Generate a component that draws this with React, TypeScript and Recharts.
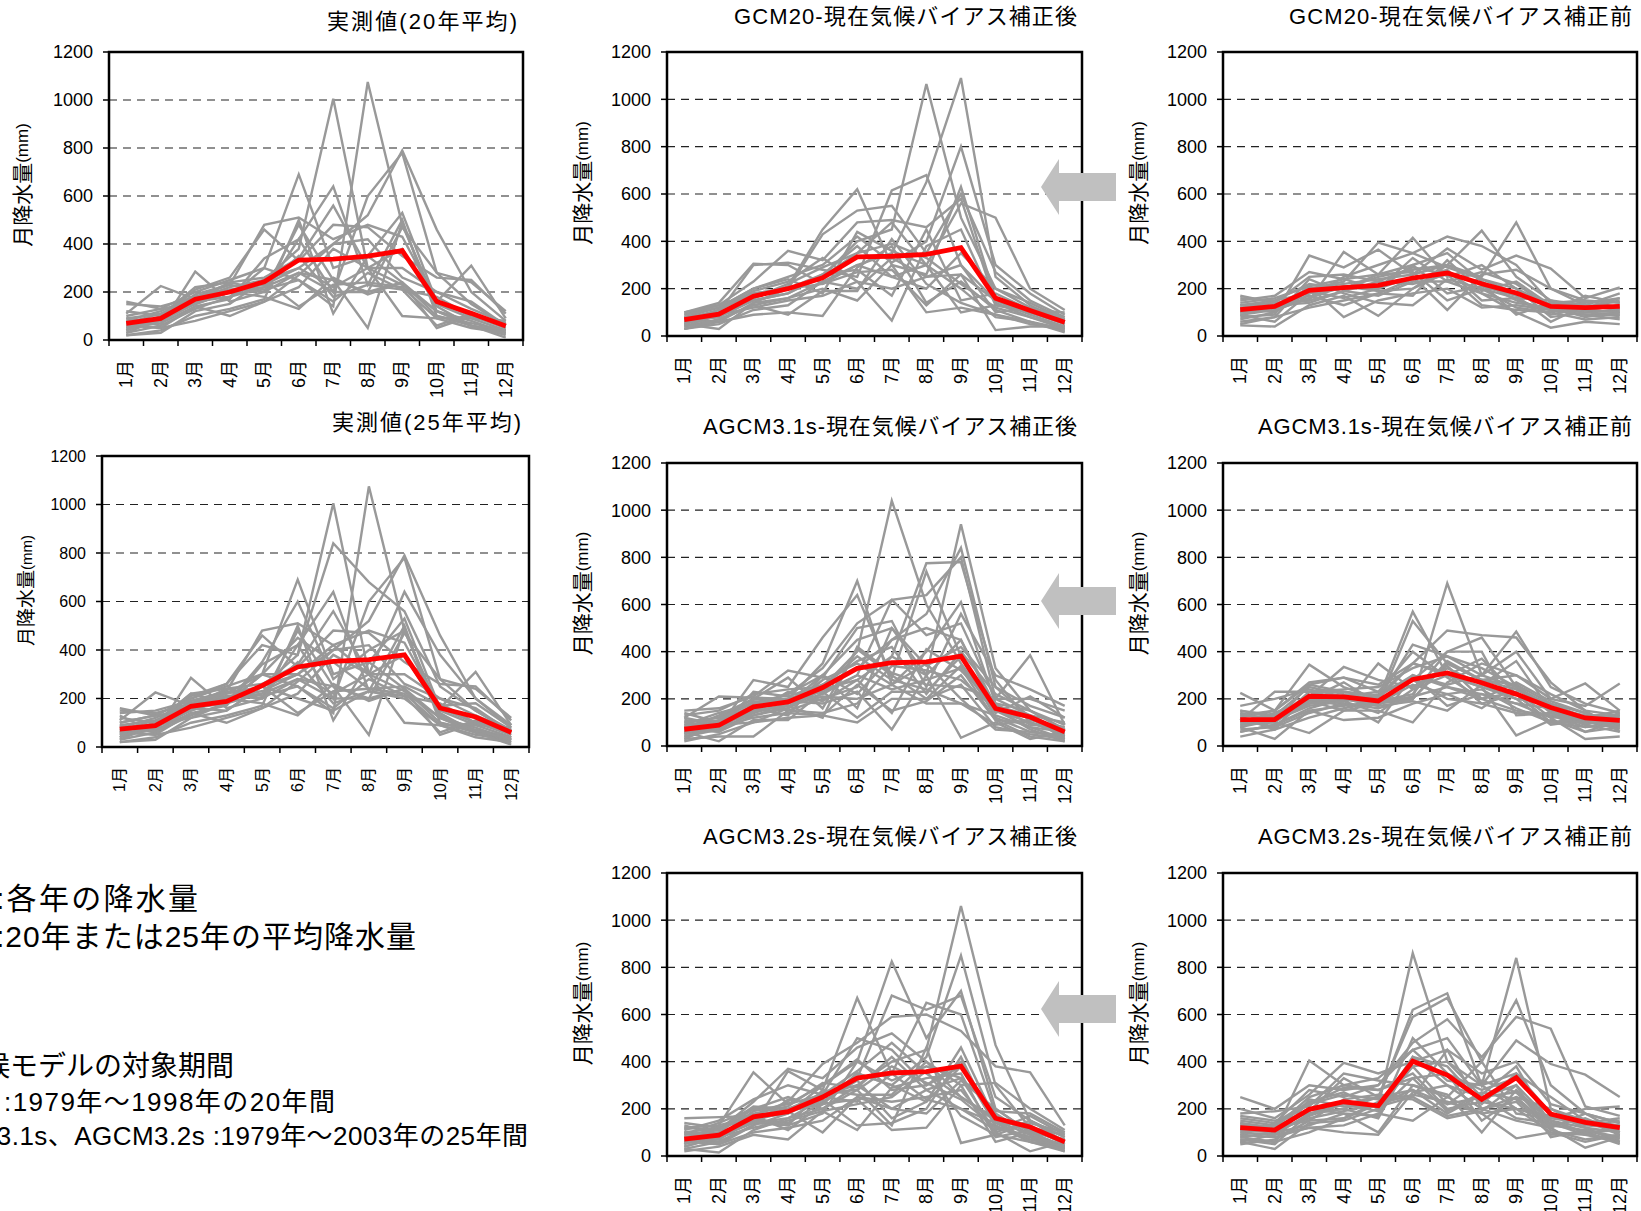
import { LineChart, Line, XAxis, YAxis, CartesianGrid, ReferenceArea } from 'recharts'

const FONT = '"Liberation Sans", Arial, "Noto Sans CJK JP", sans-serif'

const MONTHS = ['1月', '2月', '3月', '4月', '5月', '6月', '7月', '8月', '9月', '10月', '11月', '12月']
const Y_TICKS = [0, 200, 400, 600, 800, 1000, 1200]
const X_BOUNDS = [0, 1, 2, 3, 4, 5, 6, 7, 8, 9, 10, 11, 12]

// 実測値 1979-2003 (first 20 rows = 1979-1998)
const OBS_YEARS = [
  [50, 80, 150, 200, 250, 380, 1005, 300, 230, 120, 60, 30],
  [90, 60, 130, 180, 300, 250, 140, 1075, 480, 150, 90, 40],
  [70, 110, 160, 210, 230, 300, 400, 520, 790, 460, 200, 80],
  [40, 90, 190, 230, 200, 420, 200, 600, 780, 280, 150, 60],
  [100, 130, 200, 250, 300, 690, 300, 350, 240, 120, 80, 30],
  [60, 70, 140, 170, 340, 420, 640, 230, 500, 100, 70, 40],
  [120, 100, 220, 240, 260, 340, 560, 300, 300, 200, 130, 70],
  [150, 140, 180, 230, 480, 510, 420, 480, 430, 160, 100, 60],
  [30, 90, 210, 260, 460, 330, 480, 470, 350, 260, 250, 110],
  [80, 120, 180, 210, 200, 480, 250, 50, 490, 120, 60, 20],
  [20, 40, 100, 130, 170, 500, 110, 350, 530, 160, 310, 90],
  [30, 60, 285, 160, 200, 280, 200, 200, 240, 100, 60, 40],
  [110, 225, 170, 220, 250, 140, 230, 240, 220, 90, 50, 30],
  [60, 50, 80, 120, 160, 220, 380, 300, 100, 90, 90, 80],
  [50, 80, 160, 180, 220, 280, 250, 200, 470, 280, 240, 120],
  [160, 130, 150, 200, 220, 350, 180, 230, 210, 60, 110, 50],
  [70, 50, 140, 100, 160, 270, 400, 420, 260, 200, 160, 60],
  [40, 100, 180, 200, 180, 130, 260, 190, 240, 50, 100, 70],
  [20, 30, 120, 150, 250, 300, 220, 300, 380, 140, 60, 10],
  [90, 110, 170, 240, 210, 250, 160, 280, 210, 180, 100, 50],
  [100, 130, 200, 260, 420, 380, 840, 680, 560, 250, 150, 70],
  [140, 150, 190, 220, 300, 300, 420, 300, 640, 380, 200, 90],
  [80, 90, 120, 180, 350, 600, 280, 400, 480, 130, 70, 30],
  [130, 60, 160, 150, 250, 200, 150, 230, 200, 90, 40, 20],
  [60, 100, 220, 180, 300, 450, 350, 240, 250, 170, 180, 80],
]
const OBS20_MEAN = [69, 90, 170, 200, 243, 333, 337, 349, 372, 160, 111, 58]
const OBS25_MEAN = [74, 88, 168, 188, 253, 330, 353, 360, 380, 161, 124, 60]

const GCM20_AFTER = [
  [60, 90, 150, 180, 250, 400, 450, 1065, 500, 200, 120, 50],
  [40, 70, 130, 160, 230, 300, 350, 650, 1090, 250, 130, 60],
  [80, 120, 200, 250, 300, 420, 310, 400, 800, 300, 180, 90],
  [50, 100, 300, 310, 280, 250, 615, 680, 300, 150, 90, 40],
  [70, 80, 160, 210, 450, 620, 300, 260, 630, 160, 100, 50],
  [30, 60, 140, 200, 430, 530, 550, 350, 600, 270, 150, 80],
  [90, 130, 230, 360, 320, 480, 490, 460, 580, 140, 80, 30],
  [60, 110, 180, 200, 250, 350, 480, 300, 560, 500, 200, 110],
  [40, 90, 120, 150, 170, 230, 65, 380, 450, 130, 100, 60],
  [100, 140, 305, 300, 220, 300, 250, 200, 350, 200, 140, 70],
  [70, 60, 90, 100, 85, 290, 380, 140, 230, 110, 60, 20],
  [50, 30, 140, 160, 200, 150, 300, 100, 120, 90, 50, 30],
  [80, 100, 170, 200, 260, 380, 250, 300, 100, 130, 110, 70],
  [30, 50, 110, 130, 230, 200, 330, 250, 260, 25, 40, 40],
  [90, 120, 200, 240, 180, 440, 360, 300, 200, 80, 60, 30],
  [60, 80, 150, 180, 260, 280, 170, 450, 150, 180, 110, 100],
  [50, 90, 160, 220, 290, 350, 390, 330, 220, 120, 80, 40],
  [100, 130, 180, 200, 220, 270, 280, 130, 260, 150, 100, 60],
  [30, 70, 130, 90, 190, 190, 410, 220, 140, 90, 60, 15],
  [70, 110, 190, 230, 330, 230, 200, 250, 300, 100, 120, 80],
]
const GCM20_AFTER_MEAN = [69, 92, 168, 200, 246, 334, 337, 345, 373, 160, 108, 58]

const GCM20_BEFORE = [
  [110, 130, 200, 220, 240, 260, 300, 250, 480, 200, 130, 120],
  [130, 150, 180, 200, 250, 280, 300, 445, 250, 150, 110, 130],
  [90, 110, 160, 250, 300, 350, 420, 380, 300, 140, 120, 150],
  [150, 170, 270, 240, 260, 415, 250, 300, 200, 130, 140, 160],
  [100, 120, 200, 230, 395, 350, 290, 240, 180, 120, 100, 110],
  [80, 90, 340, 290, 365, 260, 370, 280, 340, 285, 160, 205],
  [170, 140, 150, 355, 260, 300, 350, 230, 150, 110, 90, 90],
  [60, 80, 240, 180, 140, 130, 240, 200, 120, 100, 70, 80],
  [120, 100, 190, 160, 200, 250, 110, 260, 280, 200, 150, 140],
  [45, 40, 130, 170, 85, 200, 270, 180, 100, 35, 60, 50],
  [140, 160, 210, 240, 200, 330, 230, 270, 220, 120, 110, 100],
  [100, 130, 170, 130, 180, 240, 280, 150, 160, 90, 120, 160],
  [70, 100, 210, 80, 150, 180, 200, 120, 130, 110, 90, 70],
  [130, 140, 150, 190, 230, 220, 260, 220, 90, 140, 150, 120],
  [90, 60, 180, 210, 190, 200, 300, 240, 200, 80, 100, 90],
  [160, 150, 220, 200, 260, 270, 150, 200, 160, 150, 130, 180],
  [50, 80, 120, 150, 180, 170, 320, 190, 230, 130, 110, 100],
  [120, 140, 250, 260, 230, 290, 260, 130, 110, 100, 170, 140],
  [110, 130, 140, 190, 170, 230, 230, 180, 140, 120, 80, 100],
  [100, 110, 160, 210, 200, 300, 180, 210, 170, 60, 130, 110],
]
const GCM20_BEFORE_MEAN = [111, 125, 193, 204, 214, 245, 266, 221, 182, 125, 120, 125]

const A31_AFTER = [
  [60, 90, 150, 200, 250, 400, 1040, 600, 350, 150, 100, 50],
  [80, 100, 170, 220, 300, 450, 500, 300, 940, 330, 150, 70],
  [40, 70, 140, 180, 260, 330, 450, 560, 840, 250, 120, 40],
  [100, 120, 200, 180, 220, 300, 620, 640, 800, 200, 130, 60],
  [70, 60, 130, 160, 240, 280, 380, 775, 780, 280, 100, 50],
  [120, 210, 205, 200, 350, 700, 260, 400, 610, 180, 150, 90],
  [50, 80, 280, 250, 460, 640, 290, 740, 380, 150, 80, 30],
  [150, 160, 210, 320, 290, 500, 530, 250, 560, 300, 240, 170],
  [90, 140, 180, 220, 330, 520, 620, 470, 520, 200, 385, 90],
  [30, 40, 40, 150, 200, 250, 450, 500, 450, 170, 130, 100],
  [80, 110, 170, 190, 180, 230, 70, 300, 35, 100, 30, 60],
  [110, 90, 160, 130, 300, 160, 500, 340, 420, 250, 170, 120],
  [60, 20, 110, 110, 230, 120, 230, 230, 380, 120, 60, 40],
  [130, 150, 220, 240, 250, 380, 280, 240, 180, 90, 110, 80],
  [20, 50, 100, 120, 130, 100, 200, 200, 260, 80, 50, 30],
  [70, 130, 200, 290, 160, 410, 300, 200, 340, 140, 210, 120],
  [100, 120, 180, 150, 140, 180, 340, 320, 280, 160, 70, 20],
  [40, 80, 120, 140, 130, 260, 150, 190, 300, 110, 100, 50],
  [90, 100, 150, 170, 210, 200, 260, 350, 200, 70, 60, 40],
  [60, 70, 230, 210, 260, 360, 420, 220, 400, 220, 150, 70],
  [120, 90, 140, 230, 190, 280, 140, 410, 320, 180, 90, 80],
  [50, 110, 190, 180, 300, 220, 380, 300, 450, 150, 120, 30],
  [140, 100, 130, 170, 120, 420, 310, 260, 250, 200, 200, 150],
  [80, 60, 180, 200, 230, 300, 240, 280, 330, 110, 40, 20],
  [30, 90, 100, 160, 280, 350, 260, 180, 180, 130, 80, 60],
]
const A31_AFTER_MEAN = [71, 88, 166, 187, 248, 329, 353, 357, 381, 159, 123, 60]

const A31_BEFORE = [
  [110, 120, 200, 210, 180, 200, 690, 300, 250, 150, 100, 90],
  [150, 130, 250, 220, 200, 570, 300, 250, 200, 180, 120, 110],
  [90, 100, 230, 200, 180, 530, 350, 280, 240, 160, 110, 100],
  [130, 150, 270, 290, 260, 350, 490, 470, 460, 270, 150, 130],
  [100, 110, 180, 190, 220, 280, 400, 460, 250, 160, 130, 120],
  [60, 90, 160, 200, 170, 300, 260, 300, 485, 250, 180, 140],
  [225, 150, 345, 250, 200, 430, 380, 300, 400, 200, 170, 265],
  [120, 80, 210, 335, 280, 250, 340, 200, 150, 130, 80, 90],
  [80, 30, 150, 170, 350, 240, 300, 250, 45, 110, 60, 80],
  [140, 100, 55, 150, 150, 100, 270, 350, 300, 200, 265, 150],
  [100, 140, 200, 180, 100, 300, 250, 220, 180, 120, 30, 40],
  [40, 70, 120, 160, 190, 200, 350, 280, 260, 140, 90, 60],
  [170, 200, 240, 210, 230, 280, 200, 180, 220, 100, 80, 110],
  [80, 110, 190, 200, 170, 190, 150, 260, 200, 90, 110, 70],
  [120, 150, 260, 230, 210, 350, 310, 180, 140, 130, 100, 120],
  [60, 90, 150, 110, 120, 180, 220, 160, 260, 180, 140, 90],
  [110, 230, 230, 240, 250, 330, 380, 330, 250, 170, 90, 140],
  [130, 120, 190, 150, 180, 260, 220, 240, 160, 100, 100, 100],
  [70, 80, 140, 180, 160, 200, 360, 280, 300, 220, 150, 60],
  [140, 100, 260, 290, 230, 400, 290, 200, 230, 120, 130, 130],
  [90, 110, 170, 190, 140, 240, 330, 260, 360, 150, 90, 130],
  [120, 70, 230, 230, 210, 300, 170, 220, 180, 160, 110, 80],
  [100, 130, 200, 170, 190, 220, 400, 400, 130, 140, 60, 110],
  [150, 120, 180, 200, 200, 350, 300, 370, 220, 100, 120, 150],
  [110, 100, 200, 270, 180, 210, 250, 200, 270, 190, 140, 100],
]
const A31_BEFORE_MEAN = [112, 112, 211, 208, 191, 282, 310, 268, 220, 163, 119, 109]

const A32_AFTER = [
  [60, 90, 170, 200, 260, 300, 400, 450, 1060, 470, 150, 60],
  [80, 100, 150, 190, 220, 350, 300, 420, 850, 300, 120, 50],
  [40, 80, 190, 220, 300, 400, 825, 500, 700, 200, 100, 40],
  [100, 120, 160, 180, 250, 330, 680, 620, 680, 250, 150, 80],
  [70, 60, 130, 360, 280, 670, 350, 650, 600, 180, 90, 30],
  [160, 165, 170, 230, 390, 480, 590, 600, 530, 380, 355, 130],
  [50, 130, 355, 220, 260, 500, 450, 300, 400, 150, 120, 90],
  [120, 110, 230, 370, 330, 460, 520, 400, 300, 310, 200, 110],
  [90, 140, 200, 250, 200, 280, 130, 460, 55, 90, 60, 40],
  [30, 15, 110, 160, 240, 130, 140, 200, 420, 120, 80, 20],
  [130, 90, 140, 130, 180, 400, 320, 380, 330, 190, 180, 100],
  [60, 70, 160, 190, 100, 250, 230, 250, 280, 100, 20, 60],
  [20, 40, 90, 70, 190, 110, 290, 330, 350, 80, 110, 70],
  [110, 150, 240, 300, 260, 360, 480, 350, 250, 160, 130, 50],
  [70, 50, 100, 120, 150, 250, 200, 180, 320, 200, 100, 40],
  [140, 120, 180, 210, 310, 290, 420, 280, 200, 110, 170, 90],
  [50, 90, 150, 140, 230, 320, 160, 230, 380, 130, 60, 20],
  [100, 80, 120, 150, 190, 220, 250, 360, 170, 90, 140, 100],
  [30, 60, 130, 240, 220, 350, 300, 230, 460, 150, 90, 30],
  [80, 100, 200, 190, 270, 280, 380, 310, 240, 120, 80, 50],
  [120, 130, 170, 110, 220, 240, 110, 120, 300, 60, 100, 70],
  [60, 50, 130, 180, 300, 410, 280, 300, 380, 170, 110, 60],
  [90, 110, 210, 200, 250, 230, 350, 240, 200, 140, 70, 40],
  [40, 80, 140, 160, 200, 300, 200, 280, 330, 100, 150, 80],
  [100, 70, 160, 130, 280, 260, 260, 400, 250, 150, 60, 30],
]
const A32_AFTER_MEAN = [72, 88, 166, 188, 250, 330, 352, 358, 381, 160, 123, 60]

const A32_BEFORE = [
  [120, 110, 200, 230, 210, 860, 400, 250, 300, 150, 120, 100],
  [150, 130, 220, 260, 240, 620, 690, 300, 840, 200, 150, 130],
  [100, 90, 180, 220, 250, 590, 670, 400, 660, 300, 180, 140],
  [250, 200, 300, 280, 300, 480, 580, 420, 590, 540, 210, 170],
  [80, 100, 405, 300, 330, 450, 500, 300, 490, 390, 345, 250],
  [200, 160, 260, 395, 350, 400, 450, 350, 400, 220, 180, 140],
  [60, 30, 140, 150, 200, 380, 400, 300, 350, 180, 120, 60],
  [130, 120, 200, 180, 100, 300, 260, 100, 280, 150, 100, 110],
  [90, 80, 120, 130, 180, 150, 250, 180, 75, 100, 60, 90],
  [170, 150, 180, 200, 160, 420, 300, 200, 250, 120, 35, 80],
  [140, 120, 250, 300, 280, 350, 200, 230, 200, 160, 140, 160],
  [70, 60, 100, 160, 220, 280, 180, 260, 380, 130, 110, 70],
  [110, 100, 170, 220, 190, 330, 350, 150, 250, 200, 130, 120],
  [50, 70, 150, 240, 260, 250, 170, 200, 230, 90, 100, 60],
  [180, 190, 210, 350, 320, 300, 250, 400, 180, 160, 200, 210],
  [90, 140, 230, 270, 200, 420, 380, 220, 350, 250, 150, 90],
  [130, 110, 160, 190, 220, 260, 230, 180, 200, 100, 90, 130],
  [60, 90, 120, 100, 90, 270, 300, 250, 270, 130, 160, 100],
  [160, 140, 280, 250, 300, 450, 320, 300, 200, 170, 130, 150],
  [120, 110, 190, 330, 250, 240, 160, 190, 300, 80, 110, 80],
  [100, 120, 150, 160, 230, 380, 220, 250, 160, 140, 90, 60],
  [80, 60, 240, 210, 210, 250, 450, 200, 150, 120, 180, 100],
  [140, 100, 130, 180, 170, 500, 350, 280, 330, 180, 140, 120],
  [110, 130, 220, 290, 280, 330, 190, 270, 240, 110, 70, 90],
  [70, 50, 180, 200, 250, 280, 220, 320, 270, 150, 100, 50],
]
const A32_BEFORE_MEAN = [120, 110, 198, 230, 213, 402, 343, 240, 332, 178, 143, 120]

const PANELS = [
  { title: '実測値(20年平均)', years: OBS_YEARS.slice(0, 20), mean: OBS20_MEAN, x: 109, y: 52, w: 414, h: 288, tRight: 517, tY: 21, tLen: 190, lx: 22, fs: 18, lfs: 21 },
  { title: 'GCM20-現在気候バイアス補正後', years: GCM20_AFTER, mean: GCM20_AFTER_MEAN, x: 667, y: 52, w: 415, h: 284, tRight: 1077, tY: 16, tLen: 343, lx: 582, fs: 18, lfs: 21 },
  { title: 'GCM20-現在気候バイアス補正前', years: GCM20_BEFORE, mean: GCM20_BEFORE_MEAN, x: 1223, y: 52, w: 414, h: 284, tRight: 1632, tY: 16, tLen: 343, lx: 1138, fs: 18, lfs: 21 },
  { title: '実測値(25年平均)', years: OBS_YEARS, mean: OBS25_MEAN, x: 102, y: 456, w: 427, h: 291, tRight: 521, tY: 422, tLen: 189, lx: 26, fs: 16, lfs: 19 },
  { title: 'AGCM3.1s-現在気候バイアス補正後', years: A31_AFTER, mean: A31_AFTER_MEAN, x: 667, y: 463, w: 415, h: 283, tRight: 1077, tY: 426, tLen: 374, lx: 582, fs: 18, lfs: 21 },
  { title: 'AGCM3.1s-現在気候バイアス補正前', years: A31_BEFORE, mean: A31_BEFORE_MEAN, x: 1223, y: 463, w: 414, h: 283, tRight: 1632, tY: 426, tLen: 374, lx: 1138, fs: 18, lfs: 21 },
  { title: 'AGCM3.2s-現在気候バイアス補正後', years: A32_AFTER, mean: A32_AFTER_MEAN, x: 667, y: 873, w: 415, h: 283, tRight: 1077, tY: 836, tLen: 374, lx: 582, fs: 18, lfs: 21 },
  { title: 'AGCM3.2s-現在気候バイアス補正前', years: A32_BEFORE, mean: A32_BEFORE_MEAN, x: 1223, y: 873, w: 414, h: 283, tRight: 1632, tY: 836, tLen: 374, lx: 1138, fs: 18, lfs: 21 },
]

// arrow centre y for the three "補正後" panels
const ARROW_Y = [187, 601, 1009]

function Panel({ p }) {
  const rows = MONTHS.map((m, i) => {
    const r = { x: i + 0.5, mean: p.mean[i] }
    p.years.forEach((yr, k) => {
      r['y' + k] = yr[i]
    })
    return r
  })
  const bw = p.w / 12

  const monthTick = (props) => {
    const { x, y, payload } = props
    const i = payload.value
    if (i >= 12) return <g />
    return (
      <text
        transform={`translate(${x + bw / 2},${y}) rotate(-90)`}
        textAnchor="end"
        dominantBaseline="central"
        fontSize={p.fs}
        fontFamily={FONT}
        fill="#000"
      >
        {MONTHS[i]}
      </text>
    )
  }

  return (
    <div style={{ position: 'absolute', left: p.x - 60, top: p.y - 10 }}>
      <LineChart width={p.w + 66} height={p.h + 80} data={rows} margin={{ top: 10, right: 6, bottom: 0, left: 0 }}>
        <CartesianGrid vertical={false} stroke="#222" strokeWidth={1.2} strokeDasharray="8 6" />
        <XAxis
          type="number"
          dataKey="x"
          domain={[0, 12]}
          ticks={X_BOUNDS}
          interval={0}
          height={70}
          axisLine={false}
          tickSize={6}
          tickMargin={14}
          tickLine={{ stroke: '#000', strokeWidth: 1.5 }}
          tick={monthTick}
        />
        <YAxis
          type="number"
          domain={[0, 1200]}
          ticks={Y_TICKS}
          interval={0}
          width={60}
          axisLine={false}
          tickSize={6}
          tickMargin={10}
          tickLine={{ stroke: '#000', strokeWidth: 1.5 }}
          tick={{ fill: '#000', fontSize: p.fs, fontFamily: FONT }}
        />
        {p.years.map((_, k) => (
          <Line key={k} dataKey={'y' + k} stroke="#999" strokeWidth={2.4} dot={false} isAnimationActive={false} />
        ))}
        <Line dataKey="mean" stroke="#ff0000" strokeWidth={4.8} dot={false} isAnimationActive={false} />
        <ReferenceArea x1={0} x2={12} y1={0} y2={1200} fill="none" fillOpacity={0} stroke="#000" strokeWidth={2.5} ifOverflow="visible" />
      </LineChart>
    </div>
  )
}

export default function App() {
  return (
    <div style={{ position: 'absolute', left: 0, top: 0, width: 1641, height: 1211, overflow: 'hidden', background: '#fff' }}>
      {PANELS.map((p, i) => (
        <Panel key={i} p={p} />
      ))}
      <svg width={1641} height={1211} style={{ position: 'absolute', left: 0, top: 0, pointerEvents: 'none' }} fontFamily={FONT}>
        {PANELS.map((p, i) => (
          <g key={i}>
            <text x={p.tRight} y={p.tY} textAnchor="end" dominantBaseline="central" fontSize={22} textLength={p.tLen} lengthAdjust="spacing">
              {p.title}
            </text>
            <text
              transform={`translate(${p.lx},${p.y + p.h / 2 - 11}) rotate(-90)`}
              textAnchor="middle"
              dominantBaseline="central"
              fontSize={p.lfs}
            >
              月降水量<tspan fontSize={p.lfs - 4}>(mm)</tspan>
            </text>
          </g>
        ))}
        {ARROW_Y.map((cy, i) => (
          <polygon
            key={i}
            points={`1041,${cy} 1059,${cy - 28} 1059,${cy - 14} 1116,${cy - 14} 1116,${cy + 14} 1059,${cy + 14} 1059,${cy + 28}`}
            fill="#c0c0c0"
          />
        ))}
        <text x={-4} y={898} dominantBaseline="central" fontSize={30} textLength={202} lengthAdjust="spacing">:各年の降水量</text>
        <text x={-4} y={936} dominantBaseline="central" fontSize={30} textLength={420} lengthAdjust="spacing">:20年または25年の平均降水量</text>
        <text x={-46} y={1066} dominantBaseline="central" fontSize={28} textLength={280} lengthAdjust="spacing">気候モデルの対象期間</text>
        <text x={4} y={1102} dominantBaseline="central" fontSize={26} textLength={331} lengthAdjust="spacing">:1979年～1998年の20年間</text>
        <text x={-83} y={1136} dominantBaseline="central" fontSize={26} textLength={611} lengthAdjust="spacing">AGCM3.1s、AGCM3.2s :1979年～2003年の25年間</text>
      </svg>
    </div>
  )
}
